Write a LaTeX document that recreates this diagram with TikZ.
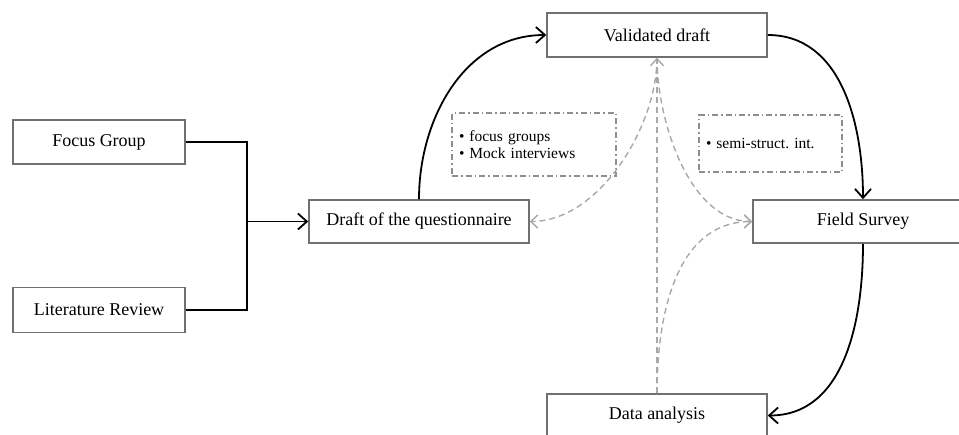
\documentclass[tikz,border=0pt]{standalone}
\usepackage{fontspec}
\setmainfont{Liberation Serif}
\usetikzlibrary{arrows.meta}
\frenchspacing
\definecolor{boxgray}{HTML}{707070}
\definecolor{dashgray}{HTML}{A8A8A8}
\definecolor{notegray}{HTML}{8E8E8E}
\tikzset{
  mainbox/.style={draw=boxgray, line width=1.5pt, fill=white, minimum width=220pt, minimum height=43pt, inner sep=0pt, font=\fontsize{18}{21}\selectfont},
  sidebox/.style={mainbox, minimum width=172pt, minimum height=44pt},
  notebox/.style={draw=notegray, line width=1.1pt, dash pattern=on 6pt off 3pt on 1.5pt off 3pt, inner xsep=7pt, inner ysep=0pt, align=left, font=\fontsize{15.5}{17}\selectfont},
  flow/.style={draw=black, line width=1.8pt, -{Straight Barb[length=9pt,width=16pt,line width=1.8pt]}},
  feedback/.style={draw=dashgray, line width=1.4pt, dash pattern=on 6pt off 4pt, -{Straight Barb[length=7pt,width=13pt,line width=1.4pt]}}
}
\begin{document}
\begin{tikzpicture}[x=1pt,y=1pt]
\useasboundingbox (0,0) rectangle (959,-434);
\node[sidebox] (fg) at (99,-142) {Focus Group};
\node[sidebox, minimum height=45pt] (lr) at (99,-310) {Literature Review};
\node[mainbox] (draft) at (419,-221.5) {Draft of the questionnaire};
\node[mainbox, minimum height=44pt] (vd) at (657,-35) {Validated draft};
\node[mainbox] (fs) at (863,-221.5) {Field Survey};
\node[mainbox] (da) at (657,-415.5) {Data analysis};
\node[notebox, text width=150pt, minimum height=63pt] (n1) at (534,-144.5) {\textbullet\hspace{5pt}focus groups\\\textbullet\hspace{5pt}Mock interviews};
\node[notebox, text width=129pt, minimum height=57pt] (n2) at (770.5,-143.5) {\textbullet\hspace{5pt}semi-struct. int.};
\coordinate (join) at (247,-221.5);
\draw[line width=1.8pt] (fg.east) -| (join);
\draw[line width=1.8pt] (lr.east) -| (join);
\draw[flow] (join) -- (draft.west);
\draw[flow] (draft.north) to[out=90,in=180] (vd.west);
\draw[flow] (vd.east) to[out=0,in=90] (fs.north);
\draw[flow] (fs.south) to[out=-90,in=0] (da.east);
\draw[feedback] (vd.south) to[out=-90,in=0,looseness=0.85] (draft.east);
\draw[feedback] (vd.south) to[out=-90,in=180,looseness=0.85] (fs.west);
\draw[feedback] (da.north) to[out=90,in=180] (fs.west);
\draw[feedback] (da.north) -- (vd.south);
\end{tikzpicture}
\end{document}
